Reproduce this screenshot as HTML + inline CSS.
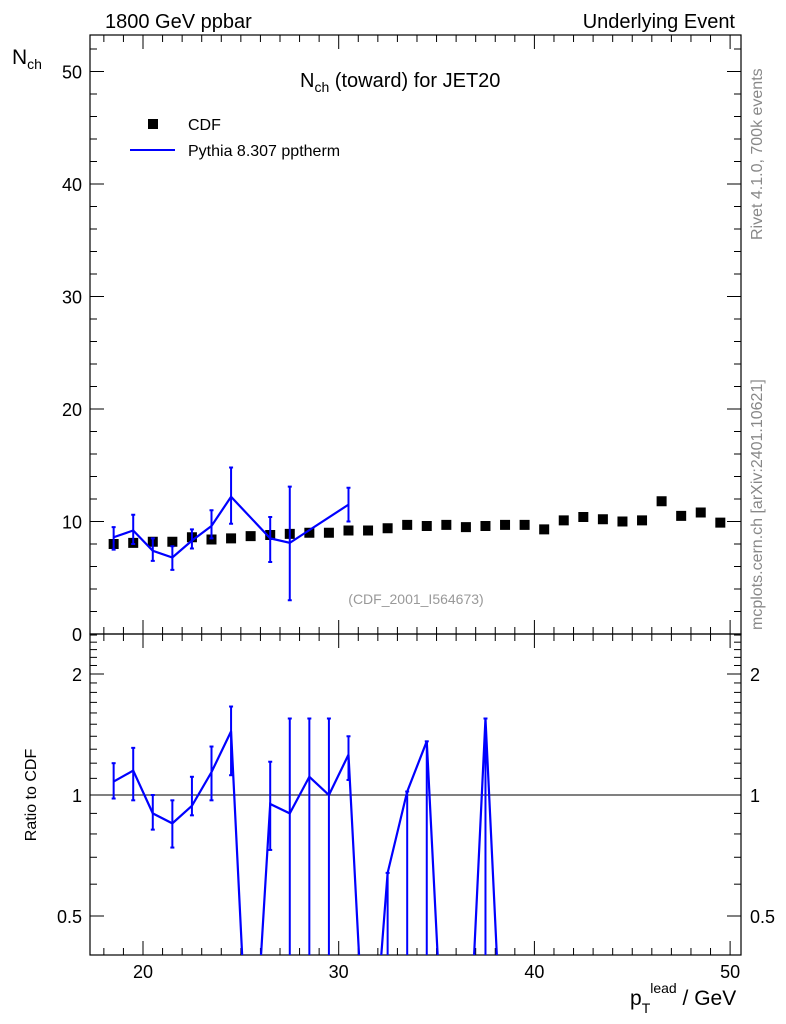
<!DOCTYPE html>
<html><head><meta charset="utf-8"><style>
html,body{margin:0;background:#fff;width:786px;height:1024px;overflow:hidden}
svg{font-family:"Liberation Sans",sans-serif;display:block}
</style></head><body>
<svg id="c" width="786" height="1024" viewBox="0 0 786 1024">
<text x="105" y="28" font-size="20">1800 GeV ppbar</text>
<text x="735" y="28" font-size="20" text-anchor="end">Underlying Event</text>
<text x="12" y="64" font-size="21">N<tspan font-size="14" dy="5">ch</tspan></text>
<text x="300" y="87" font-size="20">N<tspan font-size="14" dy="5">ch</tspan><tspan dy="-5"> (toward) for JET20</tspan></text>
<text x="416" y="604" font-size="14" fill="#999" text-anchor="middle">(CDF_2001_I564673)</text>
<text transform="translate(762,240) rotate(-90)" font-size="16" fill="#888">Rivet 4.1.0,  700k events</text>
<text transform="translate(762,630) rotate(-90)" font-size="16" fill="#888">mcplots.cern.ch [arXiv:2401.10621]</text>
<text transform="translate(36,795) rotate(-90)" font-size="16" text-anchor="middle">Ratio to CDF</text>
<text x="630" y="1005" font-size="21">p<tspan font-size="14" dy="8">T</tspan><tspan font-size="14" dy="-20">lead</tspan><tspan dy="12"> / GeV</tspan></text>
<rect x="148" y="119" width="10" height="10" fill="#000"/>
<text x="188" y="130" font-size="16">CDF</text>
<line x1="130" y1="150" x2="175" y2="150" stroke="#00f" stroke-width="2"/>
<text x="188" y="156" font-size="16">Pythia 8.307 pptherm</text>
<defs>
<clipPath id="cpTop"><rect x="90" y="35" width="651" height="599"/></clipPath>
<clipPath id="cpBot"><rect x="90" y="634" width="651" height="321"/></clipPath>
</defs>
<g id="g"></g>
</svg>
<script>
const cdfX=[18.5,19.5,20.5,21.5,22.5,23.5,24.5,25.5,26.5,27.5,28.5,29.5,30.5,31.5,32.5,33.5,34.5,35.5,36.5,37.5,38.5,39.5,40.5,41.5,42.5,43.5,44.5,45.5,46.5,47.5,48.5,49.5];
const cdfY=[8.0,8.1,8.2,8.2,8.6,8.4,8.5,8.7,8.8,8.9,9.0,9.0,9.2,9.2,9.4,9.7,9.6,9.7,9.5,9.6,9.7,9.7,9.3,10.1,10.4,10.2,10.0,10.1,11.8,10.5,10.8,9.9];
const pyX=[18.5,19.5,20.5,21.5,22.5,23.5,24.5,26.5,27.5,30.5];
const pyY=[8.6,9.2,7.4,6.8,8.3,9.6,12.2,8.5,8.1,11.5];
const pyLo=[7.5,8.0,6.5,5.7,7.6,8.5,9.8,6.4,3.0,10.0];
const pyHi=[9.5,10.6,8.5,7.8,9.3,11.0,14.8,10.4,13.1,13.0];
const rX=[18.5,19.5,20.5,21.5,22.5,23.5,24.5,25.5,26.5,27.5,28.5,29.5,30.5,31.5,32.5,33.5,34.5,35.5,36.5,37.5,38.5];
const rY=[1.08,1.15,0.90,0.85,0.94,1.14,1.44,0.15,0.95,0.90,1.11,1.0,1.26,0.15,0.64,1.02,1.36,0.15,0.15,1.55,0.15];
const rLo=[0.98,0.97,0.82,0.74,0.89,0.97,1.12,null,0.73,0.1,0.1,0.1,1.09,null,0.1,0.1,0.1,null,null,0.1,null];
const rHi=[1.20,1.31,1.0,0.97,1.11,1.32,1.66,null,1.21,1.55,1.55,1.55,1.4,null,0.64,1.02,1.36,null,null,1.55,null];
const xTicks=[20,30,40,50], yTicks=[0,10,20,30,40,50], rTicks=[0.5,1,2];

const L=90,R=741,T=35,M=634,B=955;
const sx=v=>143+(v-20)*19.57;
const sy=v=>634-v*11.25;
const sr=v=>795-Math.log2(v)*121;
const g=document.getElementById('g'),NS='http://www.w3.org/2000/svg';
function el(t,a,p){const e=document.createElementNS(NS,t);for(const k in a)e.setAttribute(k,a[k]);(p||g).appendChild(e);return e;}
let f1=el('rect',{x:L,y:T,width:R-L,height:M-T,fill:'none',stroke:'#000','stroke-width':1.2});


let f2=el('rect',{x:L,y:M,width:R-L,height:B-M,fill:'none',stroke:'#000','stroke-width':1.2});


for(let v=18;v<=50;v++){const x=sx(v);const big=v%10==0;const h=big?14:7;
 [[T,1],[M,-1],[M,1],[B,-1]].forEach(([y,d])=>{const t=el('line',{x1:x,x2:x,y1:y,y2:y+d*h,stroke:'#000'});
 
 });}
xTicks.forEach(v=>{const t=el('text',{x:sx(v),y:978,'font-size':18,'text-anchor':'middle'});t.textContent=v;
 
 });
for(let v=0;v<=52;v+=2){const y=sy(v);const big=v%10==0;const h=big?14:7;
 [[L,1],[R,-1]].forEach(([x,d])=>{const t=el('line',{x1:x,x2:x+d*h,y1:y,y2:y,stroke:'#000'});
 
 });}
yTicks.forEach(v=>{const t=el('text',{x:82,y:sy(v)+7,'font-size':18,'text-anchor':'end'});t.textContent=v;
 
 });
[0.5,0.6,0.7,0.8,0.9,1,1.1,1.2,1.3,1.4,1.5,1.6,1.7,1.8,1.9,2,2.1,2.2,2.3,2.4,2.5].forEach(v=>{const y=sr(v);if(y<M||y>B)return;
 const big=rTicks.includes(v);const h=big?14:7;
 [[L,1],[R,-1]].forEach(([x,d])=>{const t=el('line',{x1:x,x2:x+d*h,y1:y,y2:y,stroke:'#000'});
 
 });});
rTicks.forEach(v=>{[[82,'end'],[750,'start']].forEach(([x,a])=>{const t=el('text',{x:x,y:sr(v)+7,'font-size':18,'text-anchor':a});t.textContent=v;
 
 });});
let ref=el('line',{x1:L,x2:R,y1:sr(1),y2:sr(1),stroke:'#000'});


const gt=el('g',{'clip-path':'url(#cpTop)'});
cdfX.forEach((x,i)=>{const r=el('rect',{x:sx(x)-5,y:sy(cdfY[i])-5,width:10,height:10,fill:'#000'},gt);
 
 });
pyX.forEach((x,i)=>{const e=el('line',{x1:sx(x),x2:sx(x),y1:sy(pyLo[i]),y2:sy(pyHi[i]),stroke:'#00f','stroke-width':2},gt);
 
 
 [pyLo[i],pyHi[i]].forEach(v=>{el('line',{x1:sx(x)-2,x2:sx(x)+2,y1:sy(v),y2:sy(v),stroke:'#00f','stroke-width':2},gt);});});
let pl=el('polyline',{points:pyX.map((x,i)=>sx(x)+','+sy(pyY[i])).join(' '),fill:'none',stroke:'#00f','stroke-width':2.2},gt);


const gb=el('g',{'clip-path':'url(#cpBot)'});
rX.forEach((x,i)=>{if(rLo[i]==null)return;const e=el('line',{x1:sx(x),x2:sx(x),y1:sr(rLo[i]),y2:sr(rHi[i]),stroke:'#00f','stroke-width':2},gb);
 
 
 [rLo[i],rHi[i]].forEach(v=>{el('line',{x1:sx(x)-2,x2:sx(x)+2,y1:sr(v),y2:sr(v),stroke:'#00f','stroke-width':2},gb);});});
let rl=el('polyline',{points:rX.map((x,i)=>sx(x)+','+sr(rY[i])).join(' '),fill:'none',stroke:'#00f','stroke-width':2.2},gb);


</script>
</body></html>
